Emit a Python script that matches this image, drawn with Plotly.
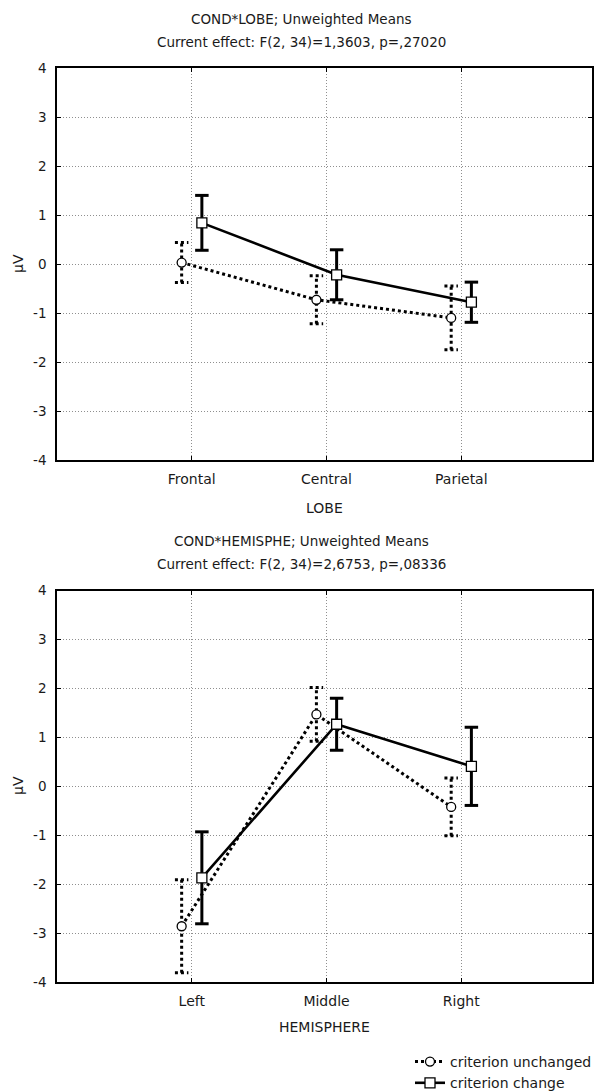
import plotly.graph_objects as go

# ---------------- data ----------------
lobe_categories = ["Frontal", "Central", "Parietal"]
lobe_change_mean = [0.84, -0.22, -0.78]
lobe_change_err = [0.56, 0.51, 0.41]
lobe_unchanged_mean = [0.03, -0.73, -1.10]
lobe_unchanged_err = [0.41, 0.49, 0.65]

hemi_categories = ["Left", "Middle", "Right"]
hemi_change_mean = [-1.87, 1.27, 0.41]
hemi_change_err = [0.94, 0.53, 0.80]
hemi_unchanged_mean = [-2.86, 1.47, -0.42]
hemi_unchanged_err = [0.95, 0.55, 0.59]

y_ticks = [-4, -3, -2, -1, 0, 1, 2, 3, 4]
y_tick_labels = ["-4", "-3", "-2", "-1", "0", "1", "2", "3", "4"]
series_names = ["criterion unchanged", "criterion change"]

top_title = ["COND*LOBE; Unweighted Means", "Current effect: F(2, 34)=1,3603, p=,27020"]
bottom_title = ["COND*HEMISPHE; Unweighted Means", "Current effect: F(2, 34)=2,6753, p=,08336"]
x_titles = ["LOBE", "HEMISPHERE"]
y_title = "µV"

# ---------------- style ----------------
W, H = 594, 1091
FONT = "DejaVu Sans, Verdana, sans-serif"
TXT = "#1a1a1a"
OFF = 0.075      # horizontal offset of the two series
CAP = 0.05       # half-width of error bar caps
DOT = "3px,3px"

def px2paper_y(py):
    return 1 - py / H

x_dom = [57 / W, 592 / W]
top_dom = [px2paper_y(460), px2paper_y(68)]
bot_dom = [px2paper_y(982), px2paper_y(590.7)]


def errbar_xy(xs, means, errs):
    X, Y = [], []
    for x, m, e in zip(xs, means, errs):
        lo, hi = m - e, m + e
        X += [x, x, None, x - CAP, x + CAP, None, x - CAP, x + CAP, None]
        Y += [lo, hi, None, hi, hi, None, lo, lo, None]
    return X, Y


fig = go.Figure()

panels = [
    ("x", "y", lobe_categories, lobe_unchanged_mean, lobe_unchanged_err,
     lobe_change_mean, lobe_change_err, True),
    ("x2", "y2", hemi_categories, hemi_unchanged_mean, hemi_unchanged_err,
     hemi_change_mean, hemi_change_err, False),
]

for xa, ya, cats, um, ue, cm, ce, legend in panels:
    pos = list(range(len(cats)))
    xu = [p - OFF for p in pos]
    xc = [p + OFF for p in pos]
    ex, ey = errbar_xy(xu, um, ue)
    fig.add_trace(go.Scatter(x=ex, y=ey, mode="lines", xaxis=xa, yaxis=ya,
                             line=dict(color="black", width=3, dash=DOT),
                             showlegend=False, hoverinfo="skip"))
    ex, ey = errbar_xy(xc, cm, ce)
    fig.add_trace(go.Scatter(x=ex, y=ey, mode="lines", xaxis=xa, yaxis=ya,
                             line=dict(color="black", width=3),
                             showlegend=False, hoverinfo="skip"))
    fig.add_trace(go.Scatter(x=xu, y=um, mode="lines+markers", xaxis=xa, yaxis=ya,
                             name=series_names[0], showlegend=legend,
                             line=dict(color="black", width=3, dash=DOT),
                             marker=dict(symbol="circle", size=9, color="white",
                                         line=dict(color="black", width=1.3))))
    fig.add_trace(go.Scatter(x=xc, y=cm, mode="lines+markers", xaxis=xa, yaxis=ya,
                             name=series_names[1], showlegend=legend,
                             line=dict(color="black", width=2.6),
                             marker=dict(symbol="square", size=10, color="white",
                                         line=dict(color="black", width=1.3))))

axis_common = dict(
    showline=True, linecolor="black", linewidth=1.6, mirror="ticks",
    ticks="inside", ticklen=4, tickcolor="black", tickwidth=1.2,
    showgrid=True, gridcolor="#8f8f8f", griddash="1px,2px", gridwidth=1,
    zeroline=False, automargin=False,
)
xfont = dict(family=FONT, size=14, color=TXT)
yfont = dict(family=FONT, size=13.5, color=TXT)

fig.update_layout(
    width=W, height=H,
    margin=dict(l=0, r=0, t=0, b=0, autoexpand=False),
    paper_bgcolor="white", plot_bgcolor="white",
    font=dict(family=FONT, size=14, color=TXT),
    xaxis=dict(domain=x_dom, anchor="y", range=[-1, 2.97],
               tickvals=list(range(len(lobe_categories))), ticktext=lobe_categories,
               ticklabelstandoff=5, tickfont=xfont, **axis_common),
    yaxis=dict(domain=top_dom, anchor="x", range=[-4, 4], tickvals=y_ticks,
               ticktext=y_tick_labels, ticklabelstandoff=6, tickfont=yfont, **axis_common),
    xaxis2=dict(domain=x_dom, anchor="y2", range=[-1, 2.97],
                tickvals=list(range(len(hemi_categories))), ticktext=hemi_categories,
                ticklabelstandoff=5, tickfont=xfont, **axis_common),
    yaxis2=dict(domain=bot_dom, anchor="x2", range=[-4, 4], tickvals=y_ticks,
                ticktext=y_tick_labels, ticklabelstandoff=6, tickfont=yfont, **axis_common),
    legend=dict(x=410 / W, y=px2paper_y(1046), xanchor="left", yanchor="top",
                font=dict(family=FONT, size=14, color=TXT),
                bgcolor="rgba(0,0,0,0)", tracegroupgap=0, itemwidth=30),
    showlegend=True,
)

ann = []
for text, py in [(top_title[0], 19), (top_title[1], 42),
                 (bottom_title[0], 541), (bottom_title[1], 564)]:
    ann.append(dict(text=text, x=301 / W, y=px2paper_y(py), xref="paper", yref="paper",
                    xanchor="center", yanchor="middle", showarrow=False,
                    font=dict(family=FONT, size=13.5, color=TXT)))
for text, py in [(x_titles[0], 508), (x_titles[1], 1027)]:
    ann.append(dict(text=text, x=(57 + 592) / 2 / W, y=px2paper_y(py), xref="paper",
                    yref="paper", xanchor="center", yanchor="middle", showarrow=False,
                    font=dict(family=FONT, size=14, color=TXT)))
for py in [264, 786]:
    ann.append(dict(text=y_title, x=18 / W, y=px2paper_y(py), xref="paper", yref="paper",
                    xanchor="center", yanchor="middle", showarrow=False, textangle=-90,
                    font=dict(family=FONT, size=14, color=TXT)))
fig.update_layout(annotations=ann)

fig.write_html(
    "out.html",
    config={"displayModeBar": False},
    post_script="document.documentElement.style.margin='0';"
                "document.body.style.margin='0';document.body.style.overflow='hidden';",
)
